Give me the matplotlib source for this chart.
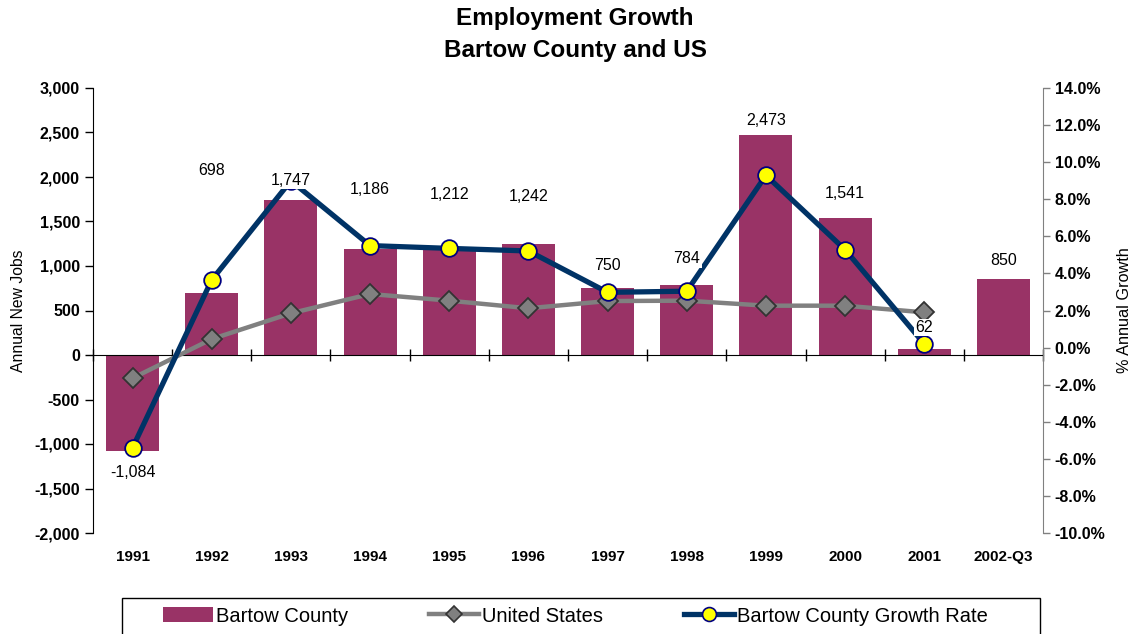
import numpy as np
import matplotlib
matplotlib.use('Agg')
import matplotlib.pyplot as plt
from matplotlib.lines import Line2D
from matplotlib.patches import Rectangle
from matplotlib.ticker import FuncFormatter, FixedLocator
from matplotlib.transforms import blended_transform_factory

plt.rcParams['font.family'] = ['Liberation Sans', 'DejaVu Sans']

# ---------------------------------------------------------------
# data
# ---------------------------------------------------------------
years = ['1991', '1992', '1993', '1994', '1995', '1996', '1997', '1998',
         '1999', '2000', '2001', '2002-Q3']
new_jobs = [-1084, 698, 1747, 1186, 1212, 1242, 750, 784, 2473, 1541, 62, 850]
us_growth = [-1.65, 0.46, 1.85, 2.89, 2.53, 2.12, 2.51, 2.53, 2.26, 2.26, 1.9]
bartow_growth = [-5.4, 3.65, 9.0, 5.5, 5.35, 5.21, 2.98, 3.04, 9.29, 5.28, 0.2]

# where each value label sits (left axis units)
label_y = [-1315, 2073, 1966, 1865, 1798, 1781, 1000, 1079, 2640, 1809, 309, 1067]

bar_color = '#993366'
navy = '#003366'
grey = '#808080'

# ---------------------------------------------------------------
# figure
# ---------------------------------------------------------------
fig = plt.figure(figsize=(11.44, 6.34), dpi=100)
ax = fig.add_axes([93 / 1144, 1 - 533 / 634, 950 / 1144, 445 / 634])
ax2 = ax.twinx()

x = np.arange(len(years))
ax.bar(x, new_jobs, width=0.67, color=bar_color, zorder=2)

xg = np.arange(len(us_growth))
ax2.plot(xg, us_growth, color=grey, lw=3.2, marker='D', ms=10,
         mfc=grey, mec='#333333', mew=1.3, zorder=3)
ax2.plot(xg, bartow_growth, color=navy, lw=3.8, marker='o', ms=12,
         mfc='#FFFF00', mec='#000080', mew=1.3, zorder=4)

# value labels drawn on top of the lines
for i, v in enumerate(new_jobs):
    ax2.text(i, label_y[i], f'{v:,}', transform=ax.transData,
             ha='center', va='center', fontsize=11.5, zorder=10,
             bbox=dict(facecolor='white', edgecolor='none', pad=1.0))

# left axis
ax.set_xlim(-0.5, len(years) - 0.5)
ax.set_ylim(-2000, 3000)
ax.set_yticks(np.arange(-2000, 3001, 500))
ax.yaxis.set_major_formatter(FuncFormatter(lambda v, p: f'{int(v):,}'))
ax.tick_params(axis='y', direction='out', length=6, width=1, labelsize=11.5)
for lab in ax.get_yticklabels():
    lab.set_fontweight('bold')
ax.set_ylabel('Annual New Jobs', fontsize=11.3, labelpad=6)

# category axis sits on zero
ax.spines['bottom'].set_position(('data', 0))
ax.spines['top'].set_visible(False)
ax.spines['right'].set_visible(False)
ax.xaxis.set_major_locator(FixedLocator(np.arange(-0.5, len(years), 1.0)))
ax.set_xticklabels([])
ax.tick_params(axis='x', direction='inout', length=8, width=1)
trans = blended_transform_factory(ax.transData, ax.transAxes)
for i, yr in enumerate(years):
    ax.text(i, -0.054, yr, transform=trans, ha='center', va='center',
            fontsize=11, fontweight='bold')

# right axis
ax2.set_ylim(-10, 14)
ax2.set_yticks(np.arange(-10, 14.1, 2))
ax2.yaxis.set_major_formatter(FuncFormatter(lambda v, p: f'{v:.1f}%'))
ax2.tick_params(axis='y', direction='out', length=5, width=1,
                color=grey, labelsize=11.5)
for lab in ax2.get_yticklabels():
    lab.set_fontweight('bold')
ax2.set_ylabel('% Annual Growth', fontsize=11.7, labelpad=8)
ax2.spines['right'].set_color(grey)
for s in ['top', 'left', 'bottom']:
    ax2.spines[s].set_visible(False)

# title
fig.text(575 / 1144, 1 - 18 / 634, 'Employment Growth', ha='center',
         va='center', fontsize=17.5, fontweight='bold')
fig.text(575 / 1144, 1 - 50 / 634, 'Bartow County and US', ha='center',
         va='center', fontsize=17.5, fontweight='bold')

# legend
handles = [
    Rectangle((0, 0), 1, 1, facecolor=bar_color),
    Line2D([], [], color=grey, lw=3.2, marker='D', ms=8, mfc=grey,
           mec='#333333', mew=1.2),
    Line2D([], [], color=navy, lw=3.8, marker='o', ms=10, mfc='#FFFF00',
           mec='#000080', mew=1.2),
]
fig.legend(handles, ['Bartow County', 'United States', 'Bartow County Growth Rate'],
           loc='center left', bbox_to_anchor=(163 / 1144, 1 - 616 / 634),
           ncol=3, frameon=False, fontsize=14.5, borderpad=0, borderaxespad=0,
           handlelength=2.5, handletextpad=0.15, columnspacing=4.0, numpoints=1)
fig.patches.append(Rectangle((122 / 1144, -0.05), (1040 - 122) / 1144,
                             0.05 + 36 / 634, transform=fig.transFigure,
                             fill=False, edgecolor='black', lw=1))

fig.savefig('out.png', dpi=100)
